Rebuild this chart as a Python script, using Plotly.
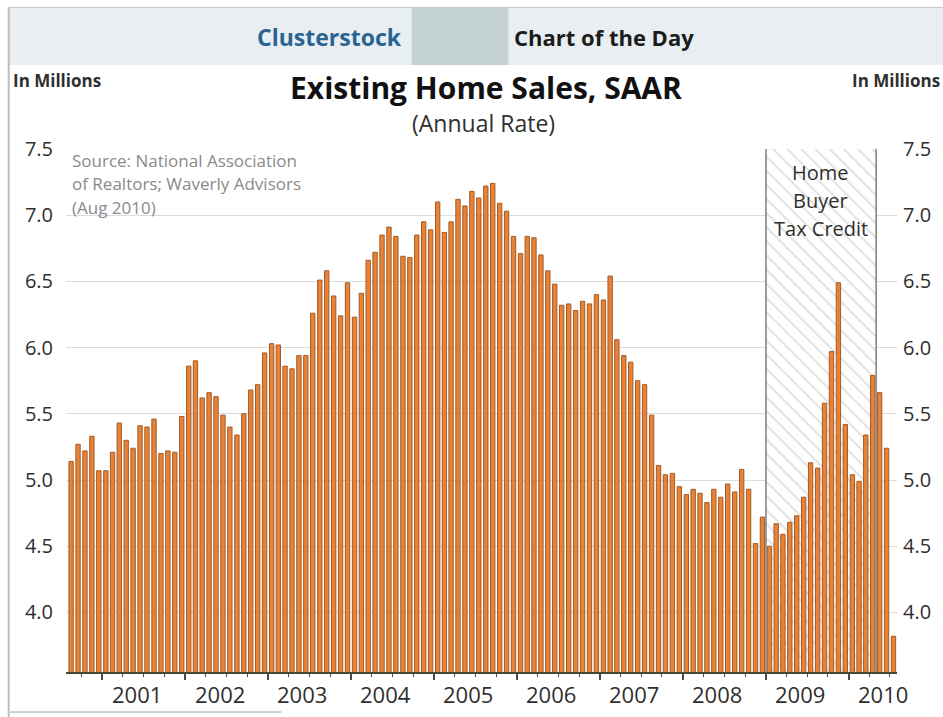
import pandas as pd
import plotly.graph_objects as go

# Existing home sales, seasonally adjusted annual rate (millions), monthly
START_MONTH = "2000-08-01"
SALES = [
    # 2000 (Aug-Dec)
    5.14, 5.27, 5.22, 5.33, 5.07,
    # 2001
    5.07, 5.21, 5.43, 5.30, 5.24, 5.41, 5.40, 5.46, 5.20, 5.22, 5.21, 5.48,
    # 2002
    5.86, 5.90, 5.62, 5.66, 5.63, 5.49, 5.40, 5.34, 5.50, 5.68, 5.72, 5.96,
    # 2003
    6.03, 6.02, 5.86, 5.84, 5.94, 5.94, 6.26, 6.51, 6.58, 6.39, 6.24, 6.49,
    # 2004
    6.23, 6.41, 6.66, 6.72, 6.85, 6.91, 6.84, 6.69, 6.68, 6.85, 6.95, 6.89,
    # 2005
    7.10, 6.87, 6.95, 7.12, 7.07, 7.18, 7.13, 7.22, 7.24, 7.09, 7.03, 6.84,
    # 2006
    6.71, 6.84, 6.83, 6.70, 6.58, 6.48, 6.32, 6.33, 6.28, 6.35, 6.33, 6.40,
    # 2007
    6.36, 6.54, 6.06, 5.94, 5.89, 5.75, 5.72, 5.49, 5.11, 5.04, 5.05, 4.95,
    # 2008
    4.89, 4.93, 4.90, 4.83, 4.93, 4.87, 4.97, 4.91, 5.08, 4.93, 4.52, 4.72,
    # 2009
    4.50, 4.67, 4.59, 4.68, 4.73, 4.87, 5.13, 5.09, 5.58, 5.97, 6.49, 5.42,
    # 2010 (Jan-Jul)
    5.04, 4.99, 5.34, 5.79, 5.66, 5.24, 3.82,
]
MONTHS = pd.date_range(START_MONTH, periods=len(SALES), freq="MS").strftime("%Y-%m-%d").tolist()

YEARS = [2001, 2002, 2003, 2004, 2005, 2006, 2007, 2008, 2009, 2010]
Y_TICKS = [4.0, 4.5, 5.0, 5.5, 6.0, 6.5, 7.0, 7.5]
Y_RANGE = [3.55, 7.5]
X_RANGE = ["2000-07-25", "2010-08-01"]

# Home buyer tax credit period
CREDIT_START = "2009-01-01"
CREDIT_END = "2010-05-01"
CREDIT_MID = "2009-08-31"
CREDIT_LABEL = ["Home", "Buyer", "Tax Credit"]

TITLE = "Existing Home Sales, SAAR"
SUBTITLE = "(Annual Rate)"
UNITS = "In Millions"
SOURCE_LINES = ["Source: National Association", "of Realtors; Waverly Advisors", "(Aug 2010)"]

W, H = 943, 717
ML, MR, MT, MB = 66, 43, 149, 45
PW, PH = W - ML - MR, H - MT - MB


def px_x(px):
    return (px - ML) / PW


def px_y(py):
    return (H - MB - py) / PH


FONT = "Open Sans"
TEXT_DARK = "#2f2f2f"

fig = go.Figure()

# hatched band for the tax credit period (sits under the bars)
fig.add_trace(go.Scatter(
    x=[CREDIT_START, CREDIT_START, CREDIT_END, CREDIT_END],
    y=[Y_RANGE[0], Y_RANGE[1], Y_RANGE[1], Y_RANGE[0]],
    fill="toself",
    mode="lines",
    line=dict(width=0),
    fillcolor="white",
    fillpattern=dict(shape="\\", fgcolor="#c4c4c4", bgcolor="white", size=10, solidity=0.2),
    hoverinfo="skip",
    showlegend=False,
    xaxis="x", yaxis="y",
))

fig.add_trace(go.Bar(
    x=MONTHS,
    y=SALES,
    xperiod="M1",
    xperiodalignment="middle",
    marker=dict(color="#e5833a", line=dict(color="#a85a22", width=1)),
    showlegend=False,
    xaxis="x", yaxis="y2",
))

shapes = [
    # header band and its darker block
    dict(type="rect", xref="paper", yref="paper", x0=px_x(8), x1=px_x(W + 5),
         y0=px_y(65), y1=px_y(8), fillcolor="#e8eef2", line=dict(width=0), layer="below"),
    dict(type="rect", xref="paper", yref="paper", x0=px_x(413), x1=px_x(510),
         y0=px_y(65), y1=px_y(8), fillcolor="#c4d2d2", line=dict(width=0), layer="below"),
    # frame lines
    dict(type="line", xref="paper", yref="paper", x0=px_x(8), x1=px_x(W + 5),
         y0=px_y(7.5), y1=px_y(7.5), line=dict(color="#c8c8c8", width=1)),
    dict(type="line", xref="paper", yref="paper", x0=px_x(8.5), x1=px_x(8.5),
         y0=px_y(7.5), y1=px_y(H + 5), line=dict(color="#bdbdbd", width=2)),
    dict(type="line", xref="paper", yref="paper", x0=px_x(8), x1=px_x(282),
         y0=px_y(712), y1=px_y(712), line=dict(color="#d0d0d0", width=2)),
    # tax credit borders
    dict(type="line", xref="x", yref="paper", x0=CREDIT_START, x1=CREDIT_START,
         y0=0, y1=1, line=dict(color="#7d7d7d", width=1.5)),
    dict(type="line", xref="x", yref="paper", x0=CREDIT_END, x1=CREDIT_END,
         y0=0, y1=1, line=dict(color="#7d7d7d", width=1.5)),
]


def label(text, x, y, size, color=TEXT_DARK, bold=False, xanchor="center", xref="paper"):
    return dict(text=text, x=x, y=y, xref=xref, yref="paper", xanchor=xanchor,
                yanchor="middle", showarrow=False,
                font=dict(family=FONT, size=size, color=color,
                          weight="bold" if bold else "normal"))


annotations = [
    label("Clusterstock", px_x(405), px_y(37), 23, "#2b6490", True, xanchor="right"),
    label("Chart of the Day", px_x(514), px_y(37), 22, "#1c1c1c", True, xanchor="left"),
    label(TITLE, px_x(488), px_y(88), 30, "#111111", True),
    label(SUBTITLE, px_x(485), px_y(123), 23),
    label(UNITS, px_x(11), px_y(80), 17, bold=True, xanchor="left"),
    label(UNITS, px_x(853), px_y(80), 17, bold=True, xanchor="left"),
]

for i, line in enumerate(SOURCE_LINES):
    annotations.append(label(line, px_x(70), px_y(160 + 23.5 * i), 17, "#8a8a8a",
                             xanchor="left"))

for i, line in enumerate(CREDIT_LABEL):
    annotations.append(label(line, CREDIT_MID, px_y(172 + 28 * i), 20, xref="x"))

for yr in YEARS:
    annotations.append(label(str(yr), f"{yr}-06-01", px_y(694), 22, xref="x"))

fig.update_layout(
    width=W, height=H,
    margin=dict(l=ML, r=MR, t=MT, b=MB),
    paper_bgcolor="white",
    plot_bgcolor="white",
    bargap=0.35,
    showlegend=False,
    xaxis=dict(
        type="date",
        range=X_RANGE,
        showgrid=False,
        zeroline=False,
        showline=True,
        linecolor="#4a4535",
        linewidth=2,
        ticks="outside",
        ticklen=6,
        tickwidth=1.5,
        tickcolor="#4a4a4a",
        tick0="2001-01-01",
        dtick="M12",
        showticklabels=False,
        minor=dict(ticks="outside", ticklen=3, tickwidth=1.2, tickcolor="#4a4a4a",
                   tick0="2001-01-01", dtick="M3", showgrid=False),
    ),
    yaxis=dict(
        range=Y_RANGE,
        tickvals=Y_TICKS,
        tickformat=".1f",
        showgrid=True,
        gridcolor="#dcdcdc",
        gridwidth=1,
        zeroline=False,
        showline=False,
        ticks="",
        ticklabelstandoff=12,
        tickfont=dict(family=FONT, size=20, color=TEXT_DARK),
    ),
    yaxis2=dict(
        range=Y_RANGE,
        overlaying="y",
        side="right",
        tickvals=Y_TICKS,
        tickformat=".1f",
        showgrid=False,
        zeroline=False,
        showline=False,
        ticks="",
        ticklabelstandoff=5,
        tickfont=dict(family=FONT, size=20, color=TEXT_DARK),
    ),
    shapes=shapes,
    annotations=annotations,
)

fig.write_html("out.html")
